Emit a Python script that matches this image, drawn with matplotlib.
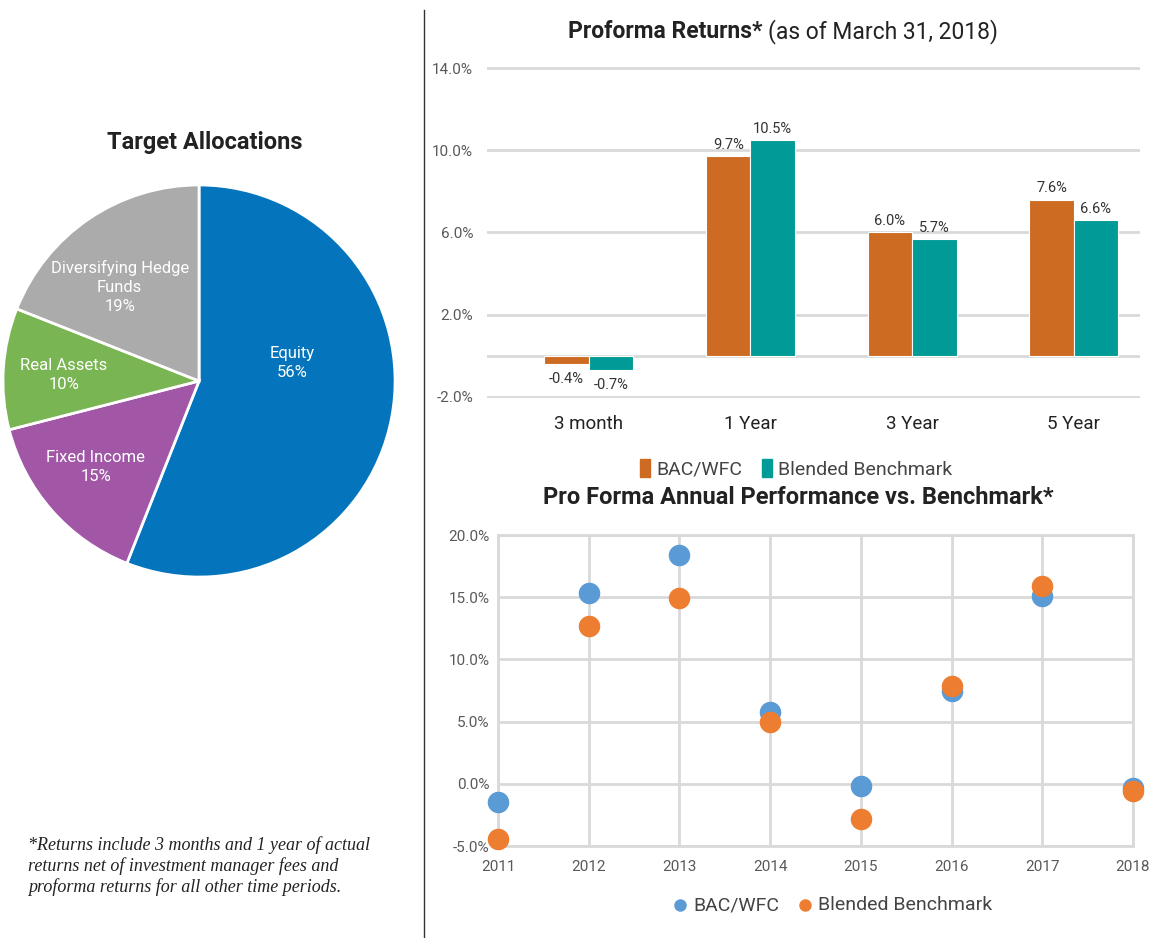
import matplotlib
matplotlib.use("Agg")
import numpy as np
import matplotlib.pyplot as plt
from matplotlib.patches import Patch
from matplotlib.lines import Line2D

plt.rcParams['font.family'] = ['Roboto', 'DejaVu Sans']

# pie data
alloc_labels = ['Equity', 'Fixed Income', 'Real Assets', 'Diversifying Hedge\nFunds']
alloc_pct = [56, 15, 10, 19]
alloc_colors = ['#0474BC', '#A157A6', '#79B552', '#ABABAB']

# bar data
periods = ['3 month', '1 Year', '3 Year', '5 Year']
bac_ret = [-0.4, 9.7, 6.0, 7.6]
bench_ret = [-0.7, 10.5, 5.7, 6.6]

# scatter data
years = [2011, 2012, 2013, 2014, 2015, 2016, 2017, 2018]
bac_annual = [-1.5, 15.3, 18.4, 5.8, -0.2, 7.5, 15.1, -0.3]
bench_annual = [-4.4, 12.7, 14.9, 5.0, -2.8, 7.9, 15.9, -0.6]

W, H = 1153, 938
fig = plt.figure(figsize=(W / 100, H / 100), dpi=100)

# ---- pie
axp = fig.add_axes([0.0009, 1 - 580 / H, 396 / W, 398 / H])
axp.pie(alloc_pct, colors=alloc_colors, startangle=90, counterclock=False,
        wedgeprops=dict(edgecolor='white', linewidth=2))
axp.set_xlim(-1.01, 1.01)
axp.set_ylim(-1.01, 1.01)
axp.set_aspect('equal')
label_pos = [(0.477, 0.09), (-0.528, -0.44), (-0.69, 0.03), (-0.405, 0.48)]
for lab, pct, (x, y) in zip(alloc_labels, alloc_pct, label_pos):
    axp.text(x, y, f"{lab}\n{pct}%", ha='center', va='center', color='white',
             fontsize=12, linespacing=1.35)
fig.text(205 / W, 1 - 143 / H, 'Target Allocations', ha='center', va='center',
         fontsize=17, fontweight='bold', color='#222222')

# footnote
fig.text(28 / W, 1 - 866 / H,
         "*Returns include 3 months and 1 year of actual\n"
         "returns net of investment manager fees and\n"
         "proforma returns for all other time periods.",
         ha='left', va='center', fontsize=13, style='italic',
         family=['Liberation Serif', 'DejaVu Serif'], color='#222222', linespacing=1.2)

# divider
fig.add_artist(Line2D([424 / W, 424 / W], [0, 1 - 10 / H], color='#333333', lw=1))

# ---- bars
axb = fig.add_axes([487 / W, 1 - 398 / H, (1140 - 487) / W, (398 - 67) / H])
x = np.arange(len(periods))
bw = 0.275
b1 = axb.bar(x - bw / 2, bac_ret, bw, color='#CC6B21', edgecolor='white', lw=0.8, label='BAC/WFC')
b2 = axb.bar(x + bw / 2, bench_ret, bw, color='#009B96', edgecolor='white', lw=0.8, label='Blended Benchmark')
for bars in (b1, b2):
    for r in bars:
        v = r.get_height()
        if v >= 0:
            axb.text(r.get_x() + r.get_width() / 2, v + 0.2, f"{v:.1f}%", ha='center', va='bottom',
                     fontsize=10.5, color='#333333')
        else:
            axb.text(r.get_x() + r.get_width() / 2, v - 0.4, f"{v:.1f}%", ha='center', va='top',
                     fontsize=10.5, color='#333333')
axb.set_xlim(-0.63, 3.41)
axb.set_ylim(-2.05, 14.05)
axb.set_yticks([-2, 2, 6, 10, 14])
axb.set_yticklabels([f"{t:.1f}%" for t in [-2, 2, 6, 10, 14]], color='#595959', fontsize=11)
axb.set_xticks(x)
axb.set_xticklabels(periods, fontsize=13.5, color='#222222')
axb.tick_params(length=0, axis='y', pad=10)
axb.tick_params(length=0, axis='x', pad=12)
axb.grid(axis='y', color='#D9D9D9', lw=2)
axb.axhline(0, color='#D9D9D9', lw=2, zorder=0)
axb.set_axisbelow(True)
for s in axb.spines.values():
    s.set_visible(False)
axb.legend(handles=[Patch(color='#CC6B21', label='BAC/WFC'), Patch(color='#009B96', label='Blended Benchmark')],
           loc='center', bbox_to_anchor=(0.473, -0.215), ncol=2, frameon=False, fontsize=14,
           handlelength=0.55, handleheight=1.0, handletextpad=0.3, columnspacing=1.0,
           labelcolor='#444444')
fig.text(762 / W, 1 - 32 / H, 'Proforma Returns*', ha='right', va='center', fontsize=16.5,
         fontweight='bold', color='#222222')
fig.text(768 / W, 1 - 32 / H, '(as of March 31, 2018)', ha='left', va='center', fontsize=16.5,
         color='#222222')

# ---- scatter
axs = fig.add_axes([498 / W, 1 - 846 / H, (1133 - 498) / W, (846 - 535) / H])
axs.scatter(years, bac_annual, s=210, color='#5B9BD5', zorder=3, clip_on=False, label='BAC/WFC')
axs.scatter(years, bench_annual, s=210, color='#ED7D31', zorder=4, clip_on=False, label='Blended Benchmark')
axs.set_xlim(2011, 2018)
axs.set_ylim(-5, 20)
axs.set_xticks(years)
axs.set_xticklabels([str(y) for y in years], fontsize=11, color='#595959')
yt = [-5, 0, 5, 10, 15, 20]
axs.set_yticks(yt)
axs.set_yticklabels([f"{t:.1f}%" for t in yt], fontsize=11, color='#595959')
axs.tick_params(length=0, axis='y', pad=6)
axs.tick_params(length=0, axis='x', pad=10)
axs.grid(True, color='#D9D9D9', lw=2)
axs.set_axisbelow(True)
for s in axs.spines.values():
    s.set_color('#D9D9D9')
    s.set_linewidth(2)
axs.legend(loc='center', bbox_to_anchor=(0.525, -0.19), ncol=2, frameon=False, fontsize=14,
           markerscale=0.55, handlelength=1.0, handletextpad=0.2, columnspacing=0.8,
           labelcolor='#444444')
fig.text(798 / W, 1 - 498 / H, 'Pro Forma Annual Performance vs. Benchmark*', ha='center', va='center',
         fontsize=17, fontweight='bold', color='#222222')

fig.savefig('out.png', dpi=100, facecolor='white')
